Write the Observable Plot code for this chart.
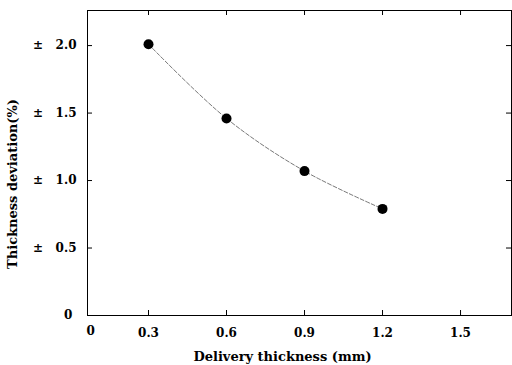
<!DOCTYPE html>
<html>
<head>
<meta charset="utf-8">
<script src="https://cdn.jsdelivr.net/npm/d3@7"></script>
<script src="https://cdn.jsdelivr.net/npm/@observablehq/plot@0.6"></script>
<style>
  html, body { margin: 0; padding: 0; background: #fff; }
  svg { display: block; }
</style>
</head>
<body>
<div id="chart"></div>
<script>
const deliveryThickness = [0.3, 0.6, 0.9, 1.2];
const thicknessDeviation = [2.01, 1.46, 1.07, 0.79];
const xTicks = [0.3, 0.6, 0.9, 1.2, 1.5];
const yTicks = [0, 0.5, 1.0, 1.5, 2.0];
const xOriginLabel = ["0"];
const xLabel = "Delivery thickness (mm)";
const yLabel = "Thickness deviation(%)";

const data = deliveryThickness.map((x, i) => ({x, y: thicknessDeviation[i]}));
const font = "'DejaVu Serif', serif";

const chart = Plot.plot({
  width: 512,
  height: 365,
  marginTop: 10,
  marginBottom: 50,
  marginLeft: 87,
  marginRight: 1,
  style: {fontFamily: font, fontSize: "12px", background: "#fff", color: "#000"},
  x: {domain: [0.0654, 1.696]},
  y: {domain: [0, 2.26]},
  marks: [
    Plot.frame({stroke: "#000", strokeWidth: 1}),
    Plot.axisX(xTicks, {tickSize: 0, tickPadding: 13, label: null, tickFormat: d => d.toFixed(1), fontSize: 12, letterSpacing: "0.5px", fontWeight: "bold"}),
    Plot.text(xOriginLabel, {frameAnchor: "bottom-left", dx: -1, dy: 19, fontSize: 12, fontWeight: "bold", fill: "#000"}),
    Plot.axisY(yTicks, {tickSize: 0, tickPadding: 11, label: null, tickFormat: d => d === 0 ? "0\u00a0" : "\u00b1\u00a0\u00a0\u00a0" + d.toFixed(1), fontSize: 12, fontWeight: "bold"}),
    Plot.tickX(xTicks, {x: d => d, insetTop: 300, stroke: "#000"}),
    Plot.tickX(xTicks, {x: d => d, insetBottom: 300, stroke: "#000"}),
    Plot.tickY(yTicks.filter(d => d > 0), {y: d => d, insetRight: 419, stroke: "#000"}),
    Plot.tickY(yTicks.filter(d => d > 0), {y: d => d, insetLeft: 419, stroke: "#000"}),
    Plot.line(data, {x: "x", y: "y", curve: "catmull-rom", stroke: "#555", strokeWidth: 0.8, strokeDasharray: "4,2"}),
    Plot.dot(data, {x: "x", y: "y", r: 5, fill: "#000", stroke: "none"}),
    Plot.text([xLabel], {frameAnchor: "bottom", dx: -17, dy: 45, fontSize: 13, fontWeight: "bold", letterSpacing: "1.8px", fill: "#000"}),
    Plot.text([yLabel], {frameAnchor: "left", textAnchor: "middle", rotate: -90, dx: -75, dy: 21, fontSize: 13, fontWeight: "bold", letterSpacing: "1.3px", fill: "#000"})
  ]
});
document.getElementById("chart").appendChild(chart);
</script>
</body>
</html>
